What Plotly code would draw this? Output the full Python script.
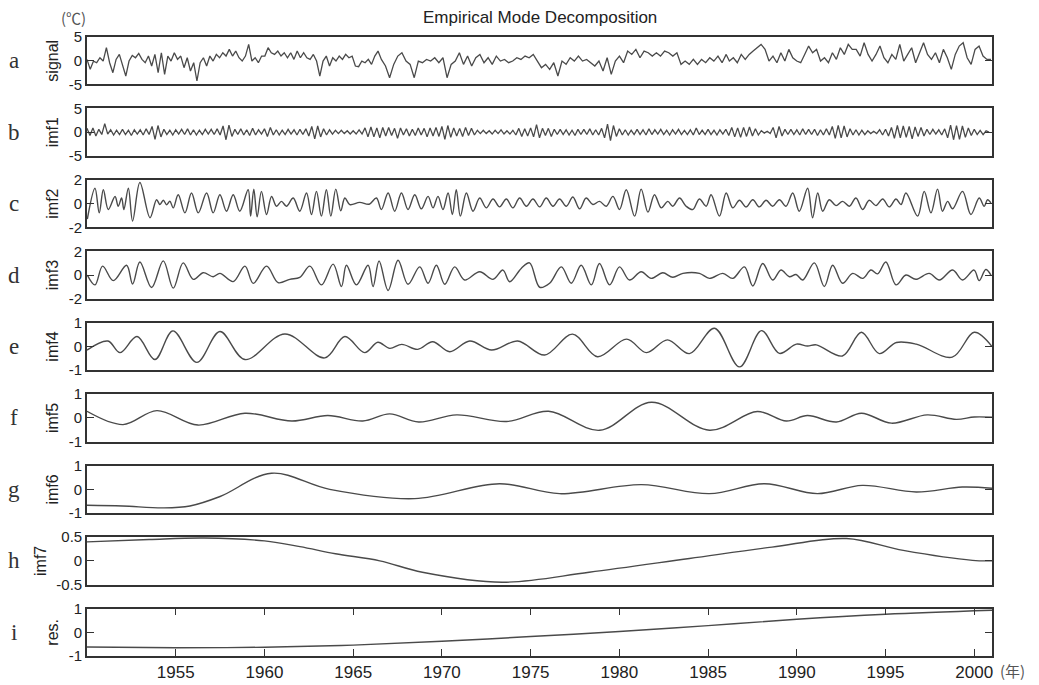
import numpy as np
import plotly.graph_objects as go
from plotly.subplots import make_subplots

# ---------------- data ----------------
# signal: three segments sampled uniformly inside given year spans
sig_seg1_span = (1950.0, 1966.4)
sig_seg1 = [0.28, -1.82, -0.07, -0.42, 0.63, -0.07, 2.74, -0.42, -2.53, 0.28, 1.33, -0.77, -3.23, -0.07,
            1.12, 0.63, 1.54, 0.28, -0.42, 0.98, -1.12, 1.33, -2.53, 1.68, -2.88, 0.98, -0.07, 1.68, 0.28,
            0.98, -1.47, 0.63, -2.18, -0.42, -4.28, -0.42, 0.63, -1.12, 0.98, -0.07, 1.33, 0.63, 1.68, 0.98,
            2.39, 0.98, 2.04, 0.63, -0.07, 0.98, 3.44, -0.07, 0.63, -0.42, 0.98, 0.98, 2.74, 1.68, 1.33,
            2.04, 0.98, 1.68, 0.63, 1.68, 0.28, 2.04, 0.63, 1.68, 0.63, 0.28, 1.33, -0.07, -3.23, -0.07,
            0.98, -1.12, 0.63, -0.07, 0.98, 0.28, 1.33, 0.63, 0.98, -1.12, -1.26, -0.07, -0.42, 0.28,
            -0.77, 0.98, 2.04]
sig_seg2_span = (1966.59, 1986.02)
sig_seg2 = [0.28, -1.12, -3.58, -0.77, 0.98, 1.68, -0.07, -0.77, -3.58, -0.07, -0.42, 0.28, -0.07, 0.63,
            -0.42, 0.63, -3.58, -0.77, -0.07, 1.68, -0.77, 0.98, -1.12, 0.63, 1.33, -0.42, 0.63, -0.77,
            0.98, -0.07, 0.28, -0.42, -0.07, 0.63, 0.28, 0.98, 0.63, 1.33, -0.07, -1.47, -0.77, -1.82,
            -0.42, -3.23, -0.07, -0.77, 0.63, -0.07, 0.98, -0.07, 0.28, -0.42, -1.12, -0.07, -2.18, 0.63,
            -2.88, -0.07, 0.98, -0.42, 2.04, 1.33, 2.39, 0.63, 2.04, 1.68, 0.98, 1.68, 0.98, 2.04, 1.68,
            0.98, 1.68, -0.77, -0.07, -0.77, 0.28, -0.77, 0.28, -0.42, 0.63, -0.07, 0.98, -0.42, 1.33]
sig_seg3_span = (1986.2, 2000.94)
sig_seg3 = [-0.07, 0.63, -0.42, 1.33, 0.28, 1.33, 2.04, 2.74, 3.44, 2.39, -0.07, 0.98, -0.42, 1.68, -0.07,
            2.39, 0.63, -0.07, -0.42, 1.33, 3.09, 1.68, 2.39, -0.07, 0.63, -0.42, 1.68, 0.28, 2.74, 1.33,
            3.44, 2.39, 2.39, 0.98, 3.79, 1.33, -0.07, 1.33, 3.09, 0.63, -0.42, 1.33, 0.28, 3.44, -0.07,
            1.33, 2.74, -0.42, 1.68, 3.79, 1.33, 0.28, 1.68, -0.42, 2.39, 0.63, -1.82, 1.33, 3.09, 3.79,
            0.63, -0.77, 2.39, 3.09, 0.98, 0.28, 0.28]

# imf1: bimonthly samples starting 1950.0 (six per year)
imf1_start = 1950.0
imf1_per_year = 6
imf1 = [
    0.8, -0.7, 0.9, -0.8, 0.6, -0.5,   1.8, -0.4, 0.5, -0.6, 0.4, -0.5,
    0.6, -0.5, 0.4, -0.7, 0.5, -0.4,   0.5, -0.6, 0.7, -0.5, 1.2, -1.5,
    1.4, -1.0, 0.6, -0.5, 0.4, -0.6,   0.5, -0.4, 0.6, -0.5, 0.7, -0.6,
    0.5, -0.6, 0.4, -0.5, 0.6, -0.4,   0.6, -0.5, 0.7, -0.6, 1.3, -1.6,
    1.5, -0.9, 0.6, -0.5, 0.7, -0.6,   0.5, -0.7, 0.8, -0.6, 0.5, -0.4,
    0.7, -0.9, 1.0, -0.6, 0.5, -0.6,   0.4, -0.5, 0.6, -0.4, 0.5, -0.6,
    0.6, -0.5, 0.7, -0.8, 1.2, -1.4,   1.3, -1.0, 0.7, -0.6, 0.5, -0.4,
    0.4, -0.3, 0.4, -0.3, 0.3, -0.4,   0.3, -0.4, 0.5, -0.4, 0.9, -1.0,
    1.1, -1.0, 0.9, -1.2, 1.0, -0.8,   1.0, -0.7, 0.8, -1.3, 0.9, -0.6,
    0.7, -0.8, 0.6, -0.7, 0.9, -0.6,   0.8, -1.0, 0.9, -0.8, 1.0, -0.9,
    1.2, -1.5, 1.4, -1.1, 0.9, -0.8,   0.8, -0.9, 1.0, -0.7, 0.8, -0.6,
    0.4, -0.3, 0.4, -0.3, 0.3, -0.4,   0.4, -0.3, 0.5, -0.4, 0.3, -0.4,
    0.4, -0.6, 0.8, -0.9, 0.7, -0.8,   0.9, -1.0, 1.6, -1.2, 0.8, -0.7,
    0.8, -0.9, 0.6, -0.5, 0.6, -0.5,   0.5, -0.6, 0.4, -0.7, 0.6, -0.5,
    0.6, -0.5, 0.7, -0.6, 0.5, -0.6,   0.8, -1.2, 1.7, -1.8, 1.4, -0.9,
    0.7, -0.6, 0.5, -0.6, 0.4, -0.5,   0.6, -0.5, 0.5, -0.6, 0.7, -0.5,
    0.5, -0.4, 0.6, -0.5, 0.4, -0.6,   0.5, -0.4, 0.6, -0.5, 0.4, -0.5,
    0.5, -0.6, 0.9, -0.5, 0.4, -0.5,   0.6, -0.5, 0.4, -0.6, 0.5, -0.4,
    0.6, -0.7, 1.0, -1.0, 0.9, -1.1,   1.0, -0.9, 1.1, -0.8, 0.7, -0.6,
    0.3, -0.2, 0.2, -0.3, 1.0, -1.2,   1.2, -0.8, 0.6, -0.5, 0.6, -0.5,
    0.5, -0.6, 0.7, -0.5, 0.6, -0.5,   0.6, -0.7, 0.5, -0.6, 0.7, -0.6,
    1.2, -1.3, 1.4, -1.2, 1.3, -1.0,   0.7, -0.6, 0.5, -0.6, 0.4, -0.5,
    0.3, -0.3, 0.2, -0.3, 0.5, -0.6,   0.6, -0.8, 1.0, -1.3, 1.4, -1.2,
    1.3, -1.1, 1.2, -1.4, 1.1, -0.9,   1.0, -0.8, 0.6, -0.5, 0.6, -0.4,
    0.5, -0.6, 0.7, -1.2, 1.5, -1.6,   1.4, -1.5, 1.3, -1.1, 0.9, -0.7,
    0.6, -0.5, 0.4, -0.5, 0.3, 0.0]

# imf2 .. res: turning points (year, value)
imf2_t = [1950.02, 1950.45, 1950.69, 1950.92, 1951.2, 1951.58, 1951.76, 1951.95, 1952.08, 1952.33, 1952.57,
          1952.98, 1953.55, 1953.92, 1954.11, 1954.3, 1954.49, 1954.67, 1954.86, 1955.14, 1955.52, 1955.89,
          1956.27, 1956.74, 1957.11, 1957.49, 1957.86, 1958.24, 1958.61, 1959.08, 1959.22, 1959.4, 1959.59,
          1959.83, 1960.12, 1960.4, 1960.68, 1960.96, 1961.24, 1961.62, 1961.99, 1962.37, 1962.65, 1962.93,
          1963.21, 1963.49, 1963.74, 1964.02, 1964.3, 1964.53, 1964.81, 1965.37, 1965.9, 1966.31, 1966.59,
          1966.97, 1967.34, 1967.72, 1968.09, 1968.47, 1968.84, 1969.22, 1969.5, 1969.78, 1970.06, 1970.35,
          1970.59, 1970.81, 1971.04, 1971.38, 1971.75, 1972.13, 1972.5, 1972.88, 1973.25, 1973.63, 1974.0,
          1974.38, 1974.76, 1975.13, 1975.51, 1975.88, 1976.26, 1976.63, 1977.01, 1977.38, 1977.76, 1978.13,
          1978.51, 1978.88, 1979.26, 1979.64, 1980.01, 1980.39, 1980.86, 1981.23, 1981.61, 1981.98, 1982.36,
          1982.73, 1983.01, 1983.39, 1983.76, 1984.14, 1984.51, 1984.89, 1985.17, 1985.64, 1986.02, 1986.39,
          1986.77, 1987.14, 1987.52, 1987.89, 1988.27, 1988.64, 1989.02, 1989.39, 1989.77, 1990.14, 1990.61,
          1990.89, 1991.18, 1991.46, 1991.83, 1992.21, 1992.58, 1992.96, 1993.33, 1993.71, 1994.08, 1994.46,
          1994.84, 1995.21, 1995.59, 1995.87, 1996.15, 1996.81, 1997.18, 1997.56, 1997.93, 1998.21, 1998.5,
          1998.78, 1999.34, 1999.81, 2000.28, 2000.56, 2000.75, 2000.94]
imf2_v = [-1.3, 1.3, -0.78, 1.17, -0.5, 0.6, -0.22, 0.47, -0.5, 1.3, -1.47,
          1.78, -1.19, 0.33, -0.08, 0.28, -0.1, 0.2, -0.36, 0.75, -0.78, 0.89,
          -0.78, 0.89, -0.78, 0.75, -0.64, 0.75, -0.64, 1.17, -1.06, 1.22, -1.11,
          1.03, -0.92, 0.6, -0.22, 0.19, -0.22, 0.47, -0.64, 0.89, -0.92, 1.03,
          -1.06, 1.17, -1.06, 1.22, -0.6, 0.47, -0.08, 0.1, -0.05, 0.47, -0.5,
          0.89, -0.64, 0.89, -0.5, 0.75, -0.44, 0.61, -0.36, 0.61, -0.5, 0.89,
          -0.92, 1.17, -1.06, 0.89, -0.64, 0.47, -0.36, 0.39, -0.28, 0.39, -0.36,
          0.47, -0.22, 0.39, -0.28, 0.47, -0.22, 0.39, -0.22, 0.56, -0.44, 0.47,
          -0.08, 0.19, -0.22, 0.61, -0.5, 1.17, -1.06, 1.22, -0.72, 0.75, -0.36,
          0.19, -0.22, 0.47, -0.22, -0.5, 0.39, -0.22, 0.75, -1.06, 0.89, -0.36,
          0.28, -0.28, 0.33, -0.28, 0.28, -0.22, 0.33, -0.22, 0.89, -0.64, 1.3,
          -1.19, 0.89, -0.64, 0.33, -0.17, 0.19, -0.22, 0.47, -0.5, 0.28, -0.17,
          0.39, -0.28, 0.39, -0.08, 0.89, -1.06, 1.03, -0.78, 1.22, -0.64, 0.19,
          -0.44, 1.03, -0.92, 0.47, -0.22, 0.33, 0.06]

imf3_t = [1950.02, 1950.45, 1950.88, 1951.48, 1952.23, 1952.57, 1952.98, 1953.64, 1954.3, 1954.86, 1955.42,
          1955.99, 1956.55, 1957.11, 1957.49, 1958.24, 1958.9, 1959.37, 1960.12, 1960.77, 1961.43, 1961.99,
          1962.56, 1963.21, 1963.87, 1964.34, 1964.62, 1965.18, 1965.84, 1966.12, 1966.46, 1966.97, 1967.53,
          1968.09, 1968.75, 1969.22, 1969.69, 1970.16, 1970.72, 1971.28, 1972.13, 1972.88, 1973.44, 1973.82,
          1974.47, 1974.94, 1975.51, 1976.07, 1976.73, 1977.29, 1977.85, 1978.42, 1978.88, 1979.45, 1980.01,
          1980.57, 1981.23, 1981.79, 1982.45, 1983.01, 1983.58, 1984.51, 1985.08, 1985.83, 1986.39, 1987.05,
          1987.52, 1988.08, 1988.64, 1989.11, 1989.58, 1989.96, 1990.33, 1990.99, 1991.55, 1992.02, 1992.58,
          1993.15, 1993.71, 1994.18, 1994.55, 1995.02, 1995.59, 1996.15, 1996.71, 1997.46, 1998.03, 1998.78,
          1999.34, 1999.99, 2000.28, 2000.65, 2000.94]
imf3_v = [0.0, -0.83, 0.75, -0.47, 0.83, -0.75, 1.1, -1.05, 1.2, -1.1, 1.03,
          -0.36, 0.2, -0.14, 0.14, -0.55, 0.75, -0.7, 0.75, -0.64, -0.36, -0.2,
          0.75, -0.83, 0.92, -0.97, 0.83, -0.83, 0.83, -0.97, 1.19, -1.3, 1.25,
          -0.78, 0.69, -0.69, 0.83, -0.78, 0.69, -0.42, 0.28, -0.36, 0.42, -0.56,
          0.56, 1.03, -1.03, -0.69, 0.69, -0.69, 0.83, -0.83, 0.97, -0.83, 0.69,
          -0.42, 0.28, -0.28, 0.19, -0.19, 0.14, 0.14, -0.28, 0.14, -0.28, 0.69,
          -0.92, 0.97, -0.42, 0.42, -0.14, 0.05, -0.42, 1.03, -0.97, 0.83, -0.69,
          0.14, -0.28, 0.42, 0.1, 1.1, -0.83, 0.0, -0.36, 0.14, -0.42, 0.42,
          -0.42, 0.42, -0.47, 0.47, 0.0]

imf4_t = [1950.0, 1951.18, 1951.86, 1952.82, 1953.83, 1954.84, 1956.19, 1957.49, 1958.9, 1961.15, 1963.4,
          1964.53, 1965.65, 1966.39, 1967.06, 1967.74, 1968.64, 1969.48, 1970.44, 1971.57, 1972.8, 1974.27,
          1975.79, 1977.36, 1978.77, 1980.41, 1981.53, 1982.71, 1983.95, 1985.36, 1986.77, 1988.01, 1989.02,
          1989.98, 1990.6, 1991.1, 1992.57, 1993.64, 1994.65, 1995.61, 1996.73, 1998.76, 2000.0, 2001.0]
imf4_v = [-0.15, 0.23, -0.26, 0.42, -0.55, 0.66, -0.67, 0.63, -0.55, 0.53, -0.48,
          0.42, -0.26, 0.18, -0.08, 0.09, -0.12, 0.2, -0.22, 0.23, -0.15, 0.23,
          -0.36, 0.52, -0.43, 0.31, -0.26, 0.28, -0.3, 0.77, -0.86, 0.67, -0.29,
          0.1, 0.02, 0.07, -0.4, 0.6, -0.3, 0.17, 0.1, -0.45, 0.6, 0.0]

imf5_t = [1950.0, 1952.03, 1953.94, 1956.25, 1958.9, 1961.54, 1963.57, 1965.54, 1967.06, 1968.69, 1970.83,
          1973.65, 1976.01, 1978.89, 1981.81, 1985.08, 1987.78, 1989.41, 1990.6, 1992.23, 1993.64, 1995.33,
          1997.35, 1998.99, 2000.0, 2001.0]
imf5_v = [0.28, -0.28, 0.31, -0.3, 0.2, -0.13, 0.1, -0.13, 0.17, -0.17, 0.13,
          -0.15, 0.28, -0.52, 0.66, -0.52, 0.27, -0.13, 0.1, -0.17, 0.2, -0.22,
          0.13, -0.06, 0.04, 0.03]

imf6_t = [1950.0, 1952.0, 1954.3, 1955.8, 1957.5, 1960.4, 1963.68, 1968.47, 1973.25, 1976.63, 1981.25,
          1985.08, 1988.18, 1991.16, 1993.69, 1996.73, 1999.32, 2001.0]
imf6_v = [-0.67, -0.7, -0.78, -0.7, -0.3, 0.68, 0.0, -0.39, 0.24, -0.18, 0.2,
          -0.18, 0.24, -0.18, 0.17, -0.11, 0.1, 0.05]

imf7_t = [1950.0, 1953.5, 1956.6, 1960.0, 1962.0, 1964.0, 1966.5, 1968.9, 1973.4, 1978.3, 1983.95,
          1988.6, 1992.8, 1996.0, 1999.9, 2001.0]
imf7_v = [0.4, 0.45, 0.48, 0.42, 0.3, 0.15, 0.0, -0.24, -0.45, -0.24, 0.05,
          0.29, 0.47, 0.22, 0.01, 0.0]

res_t = [1950.0, 1955.0, 1960.0, 1965.0, 1970.0, 1975.0, 1980.0, 1985.0, 1990.0, 1995.0, 2001.0]
res_v = [-0.62, -0.65, -0.63, -0.54, -0.38, -0.18, 0.03, 0.28, 0.55, 0.76, 0.93]

panel_names = ["signal", "imf1", "imf2", "imf3", "imf4", "imf5", "imf6", "imf7", "res."]
panel_letters = ["a", "b", "c", "d", "e", "f", "g", "h", "i"]
panel_limits = [5, 5, 2, 2, 1, 1, 1, 0.5, 1]
panel_ticktext = [["-5", "0", "5"], ["-5", "0", "5"], ["-2", "0", "2"], ["-2", "0", "2"],
                  ["-1", "0", "1"], ["-1", "0", "1"], ["-1", "0", "1"], ["-0.5", "0", "0.5"],
                  ["-1", "0", "1"]]
x_ticks = [1955, 1960, 1965, 1970, 1975, 1980, 1985, 1990, 1995, 2000]
x_range = [1950, 2001]
title_text = "Empirical Mode Decomposition"

# ---------------- build series ----------------
sig_t = np.concatenate([
    np.linspace(*sig_seg1_span, len(sig_seg1)),
    np.linspace(*sig_seg2_span, len(sig_seg2)),
    np.linspace(*sig_seg3_span, len(sig_seg3)),
])
sig_v = sig_seg1 + sig_seg2 + sig_seg3
imf1_t = imf1_start + np.arange(len(imf1)) / imf1_per_year

series = [
    (sig_t, sig_v, "linear"),
    (imf1_t, imf1, "linear"),
    (imf2_t, imf2_v, "spline"),
    (imf3_t, imf3_v, "spline"),
    (imf4_t, imf4_v, "spline"),
    (imf5_t, imf5_v, "spline"),
    (imf6_t, imf6_v, "spline"),
    (imf7_t, imf7_v, "spline"),
    (res_t, res_v, "spline"),
]

# page offset of the figure inside the browser page (default body margin)
OFF = 8
W, H = 1039 - OFF, 685 - OFF
ML, MR, MT, MB = 87 - OFF, 47, 37 - OFF, 29
PW, PH = W - ML - MR, H - MT - MB


def px_x(page_x):
    return (page_x - OFF - ML) / PW


def px_y(page_y):
    return 1 - (page_y - OFF - MT) / PH


LINE = "#4a4a4a"
FRAME = "#333333"
TICKFONT = dict(family="Liberation Sans, Arial, sans-serif", size=15, color="#222222")

fig = make_subplots(rows=9, cols=1, shared_xaxes=True, vertical_spacing=0.0388)

for i, (t, v, shape) in enumerate(series):
    r = i + 1
    fig.add_trace(go.Scatter(
        x=t, y=v, mode="lines",
        line=dict(color=LINE, width=1.3 if shape == "linear" else 1.4, shape=shape,
                  smoothing=1.0 if shape == "spline" else None),
        hoverinfo="skip", showlegend=False), row=r, col=1)
    lim = panel_limits[i]
    fig.update_yaxes(
        row=r, col=1, range=[-lim, lim], tickvals=[-lim, 0, lim], ticktext=panel_ticktext[i],
        ticks="inside", ticklen=7, tickwidth=1.3, tickcolor=FRAME,
        showline=True, linecolor=FRAME, linewidth=1.6, mirror="ticks",
        showgrid=False, zeroline=False, tickfont=TICKFONT,
        title=dict(text=panel_names[i], standoff=6,
                   font=dict(family="Liberation Sans, Arial, sans-serif", size=16, color="#222222")),
        fixedrange=True)
    is_bottom = (r == 9)
    fig.update_xaxes(
        row=r, col=1, range=x_range, showline=True, linecolor=FRAME, linewidth=1.6,
        mirror="ticks" if is_bottom else True, showgrid=False, zeroline=False,
        tickvals=x_ticks if is_bottom else [], ticks="inside" if is_bottom else "",
        ticklen=7, tickwidth=1.3, tickcolor=FRAME,
        showticklabels=is_bottom,
        tickfont=dict(family="Liberation Sans, Arial, sans-serif", size=17, color="#222222"))
    # panel letter
    fig.add_annotation(
        text=panel_letters[i], xref="paper", x=px_x(14),
        yref=("y domain" if r == 1 else f"y{r} domain"), y=0.5,
        showarrow=False, xanchor="center", yanchor="middle",
        font=dict(family="Liberation Serif, Times New Roman, serif", size=23, color="#333333"))

fig.add_annotation(text=title_text, xref="paper", yref="paper",
                   x=px_x(540), y=px_y(17), showarrow=False,
                   xanchor="center", yanchor="middle",
                   font=dict(family="Liberation Sans, Arial, sans-serif", size=17, color="#222222"))
fig.add_annotation(text="(℃)", xref="paper", yref="paper",
                   x=px_x(73), y=px_y(17), showarrow=False,
                   xanchor="center", yanchor="middle",
                   font=dict(family="Noto Sans CJK SC, sans-serif", size=15, color="#555555"))
fig.add_annotation(text="(年)", xref="paper", yref="paper",
                   x=px_x(1012), y=px_y(670), showarrow=False,
                   xanchor="center", yanchor="middle",
                   font=dict(family="Noto Sans CJK SC, sans-serif", size=15, color="#555555"))

fig.update_layout(
    width=W, height=H, margin=dict(l=ML, r=MR, t=MT, b=MB, autoexpand=False),
    paper_bgcolor="white", plot_bgcolor="white", showlegend=False,
)

fig.write_html("out.html")
